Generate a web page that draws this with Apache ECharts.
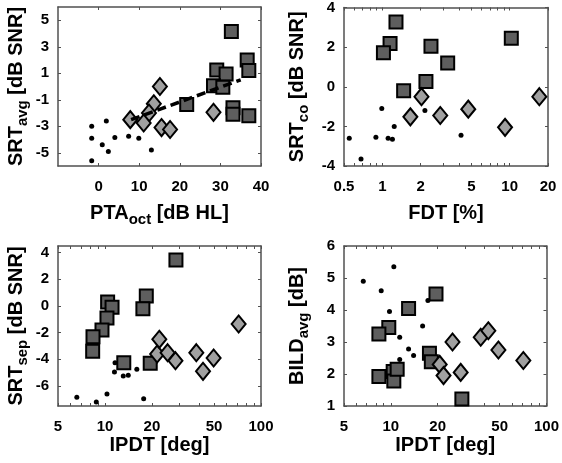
<!DOCTYPE html>
<html><head><meta charset="utf-8">
<script src="https://cdn.jsdelivr.net/npm/echarts@6/dist/echarts.min.js"></script>
<style>html,body{margin:0;padding:0;background:#fff}#c{width:562px;height:463px}</style>
</head><body><div id="c"></div>
<script>
// ---------- Panel A: PTA_oct [dB HL] vs SRT_avg [dB SNR] ----------
const aDots = [[-1.7,-3.0],[-1.7,-3.9],[-1.7,-5.6],[1.9,-2.6],[0.9,-4.4],[2.4,-4.9],[4.0,-3.85],[7.4,-3.75],[9.9,-3.9],[13.0,-4.8]];
const aDiamonds = [[7.8,-2.5],[15.1,0.0],[13.6,-1.3],[12.4,-2.0],[11.1,-2.75],[15.5,-3.1],[17.6,-3.25],[28.3,-1.95]];
const aSquares = [[32.7,4.15],[29.1,1.25],[31.4,0.95],[36.6,2.0],[37.0,1.2],[28.3,0.05],[30.6,-0.05],[21.7,-1.35],[33.1,-1.6],[33.1,-2.1],[37.0,-2.2]];
const aFit = [[8,-2.5],[35,0.5]];
const aXLabels = [0,10,20,30,40];
const aYLabels = [-5,-3,-1,1,3,5];

// ---------- Panel B: FDT [%] vs SRT_co [dB SNR] ----------
const bDots = [[0.55,-2.6],[0.68,-3.65],[0.89,-2.55],[0.99,-1.1],[1.11,-2.6],[1.2,-2.65],[1.24,-2.0],[2.16,-1.2],[4.15,-2.45]];
const bDiamonds = [[2.03,-0.5],[1.66,-1.52],[2.85,-1.45],[4.73,-1.13],[9.2,-2.05],[17.1,-0.5]];
const bSquares = [[1.28,3.27],[1.15,2.18],[1.02,1.72],[2.41,2.05],[3.26,1.2],[2.2,0.27],[1.47,-0.2],[10.3,2.45]];
const bXLabels = [0.5,1,2,5,10,20];
const bXTicks = [0.5,0.6,0.7,0.8,0.9,1,2,3,4,5,6,7,8,9,10,20];
const bYLabels = [-4,-2,0,2,4];

// ---------- Panel C: IPDT [deg] vs SRT_sep [dB SNR] ----------
const cDots = [[6.6,-6.85],[8.8,-7.2],[10.3,-6.6],[11.5,-4.95],[11.6,-4.25],[13.1,-5.25],[14.1,-5.2],[16.0,-4.75],[17.7,-6.95]];
const cDiamonds = [[21.6,-3.6],[22.3,-2.5],[25.2,-3.5],[28.3,-4.1],[38.5,-3.5],[42.5,-4.9],[49.7,-3.9],[71.9,-1.35]];
const cSquares = [[28.5,3.45],[18.4,0.75],[17.5,-0.2],[10.4,0.3],[11.1,-0.1],[10.3,-0.9],[9.57,-1.8],[8.38,-2.3],[8.34,-3.4],[13.2,-4.25],[19.5,-4.3]];
const cYLabels = [-6,-4,-2,0,2,4];

// ---------- Panel D: IPDT [deg] vs BILD_avg [dB] ----------
const dDots = [[6.65,4.9],[8.67,4.6],[10.45,5.35],[9.8,3.95],[11.4,3.15],[13.0,2.78],[14.0,2.58],[11.4,2.45],[16.0,3.5],[17.3,4.3]];
const dSquares = [[19.5,4.5],[13.0,4.05],[9.7,3.45],[8.38,3.25],[17.7,2.65],[18.2,2.38],[8.38,1.92],[10.35,2.08],[10.45,1.78],[10.98,2.15],[28.6,1.22]];
const dDiamonds = [[20.6,2.3],[21.8,1.95],[24.9,3.0],[28.1,2.05],[37.8,3.15],[42.3,3.35],[49.1,2.75],[71,2.42]];
const ipdtXLabels = [5,10,20,50,100];
const ipdtXTicks = [5,6,7,8,9,10,20,30,40,50,60,70,80,90,100];
const dYLabels = [1,2,3,4,5,6];

const FONT = "'Liberation Sans', Arial, Helvetica, sans-serif";
const BOX = '#505050';
const rich = {
  m: {fontSize: 20, fontWeight: 'bold', fontFamily: FONT, color: '#000', lineHeight: 20, verticalAlign: 'top'},
  s: {fontSize: 15, fontWeight: 'bold', fontFamily: FONT, color: '#000', lineHeight: 15, verticalAlign: 'top', padding: [9, 0, 0, 0]}
};
const fmt = v => String(parseFloat(Number(v).toPrecision(6)));

function xPair(gi, type, min, max, labels, ticks, name, gap) {
  const base = {
    gridIndex: gi, type: type, min: min, max: max, logBase: 10,
    splitLine: {show: false}, minorTick: {show: false},
    axisLine: {show: true, onZero: false, lineStyle: {color: BOX, width: 1.5}},
    axisTick: {show: true, inside: true, length: 3, lineStyle: {color: BOX, width: 1}, customValues: ticks}
  };
  return [
    Object.assign({}, base, {
      position: 'bottom',
      axisLabel: {show: true, customValues: labels, margin: 13, fontSize: 15, fontWeight: 'bold', fontFamily: FONT, color: '#000', formatter: fmt},
      name: name, nameLocation: 'middle', nameGap: gap, nameTextStyle: {rich: rich}
    }),
    Object.assign({}, base, {position: 'top', axisLabel: {show: false}})
  ];
}
function yPair(gi, min, max, labels, name, gap) {
  const base = {
    gridIndex: gi, type: 'value', min: min, max: max,
    splitLine: {show: false},
    axisLine: {show: true, onZero: false, lineStyle: {color: BOX, width: 1.5}},
    axisTick: {show: true, inside: true, length: 3, lineStyle: {color: BOX, width: 1}, customValues: labels}
  };
  return [
    Object.assign({}, base, {
      position: 'left',
      axisLabel: {show: true, customValues: labels, margin: 9, fontSize: 15, fontWeight: 'bold', fontFamily: FONT, color: '#000'},
      name: name, nameLocation: 'middle', nameGap: gap, nameTextStyle: {rich: rich}
    }),
    Object.assign({}, base, {position: 'right', axisLabel: {show: false}})
  ];
}

function marks(p, dots, squares, diamonds) {
  const xi = 2 * p, yi = 2 * p;
  return [
    {type: 'scatter', xAxisIndex: xi, yAxisIndex: yi, data: squares, symbol: 'rect', symbolSize: 13, z: 3,
     itemStyle: {color: '#5e5e5e', borderColor: '#000', borderWidth: 2, opacity: 1}},
    {type: 'scatter', xAxisIndex: xi, yAxisIndex: yi, data: diamonds, symbol: 'diamond', symbolSize: [14, 17], z: 4,
     itemStyle: {color: '#a0a0a0', borderColor: '#000', borderWidth: 2, opacity: 1}},
    {type: 'scatter', xAxisIndex: xi, yAxisIndex: yi, data: dots, symbol: 'circle', symbolSize: 5, z: 5,
     itemStyle: {color: '#000', opacity: 1}}
  ];
}

const xAxes = [].concat(
  xPair(0, 'value', -10, 40, aXLabels, aXLabels, '{m|PTA}{s|oct}{m| [dB HL]}', 37),
  xPair(1, 'log', 0.5, 20, bXLabels, bXTicks, '{m|FDT [%]}', 37),
  xPair(2, 'log', 5, 100, ipdtXLabels, ipdtXTicks, '{m|IPDT [deg]}', 29),
  xPair(3, 'log', 5, 100, ipdtXLabels, ipdtXTicks, '{m|IPDT [deg]}', 29)
);
const yAxes = [].concat(
  yPair(0, -6, 6, aYLabels, '{m|SRT}{s|avg}{m| [dB SNR]}', 32),
  yPair(1, -4, 4, bYLabels, '{m|SRT}{s|co}{m| [dB SNR]}', 37),
  yPair(2, -7.5, 4.5, cYLabels, '{m|SRT}{s|sep}{m| [dB SNR]}', 32),
  yPair(3, 1, 6, dYLabels, '{m|BILD}{s|avg}{m| [dB]}', 37)
);

const series = [].concat(
  marks(0, aDots, aSquares, aDiamonds),
  [{type: 'line', xAxisIndex: 0, yAxisIndex: 0, data: aFit, symbol: 'none', z: 6,
    lineStyle: {color: '#000', width: 3.5, type: [9, 5]}}],
  marks(1, bDots, bSquares, bDiamonds),
  marks(2, cDots, cSquares, cDiamonds),
  marks(3, dDots, dSquares, dDiamonds)
);

const chart = echarts.init(document.getElementById('c'), null, {renderer: 'canvas'});
chart.setOption({
  animation: false,
  backgroundColor: '#fff',
  grid: [
    {left: 58, top: 7, width: 203, height: 159},
    {left: 344, top: 7, width: 204, height: 159},
    {left: 58, top: 246, width: 203, height: 160},
    {left: 344, top: 246, width: 204, height: 160}
  ],
  xAxis: xAxes,
  yAxis: yAxes,
  series: series
});
</script></body></html>
